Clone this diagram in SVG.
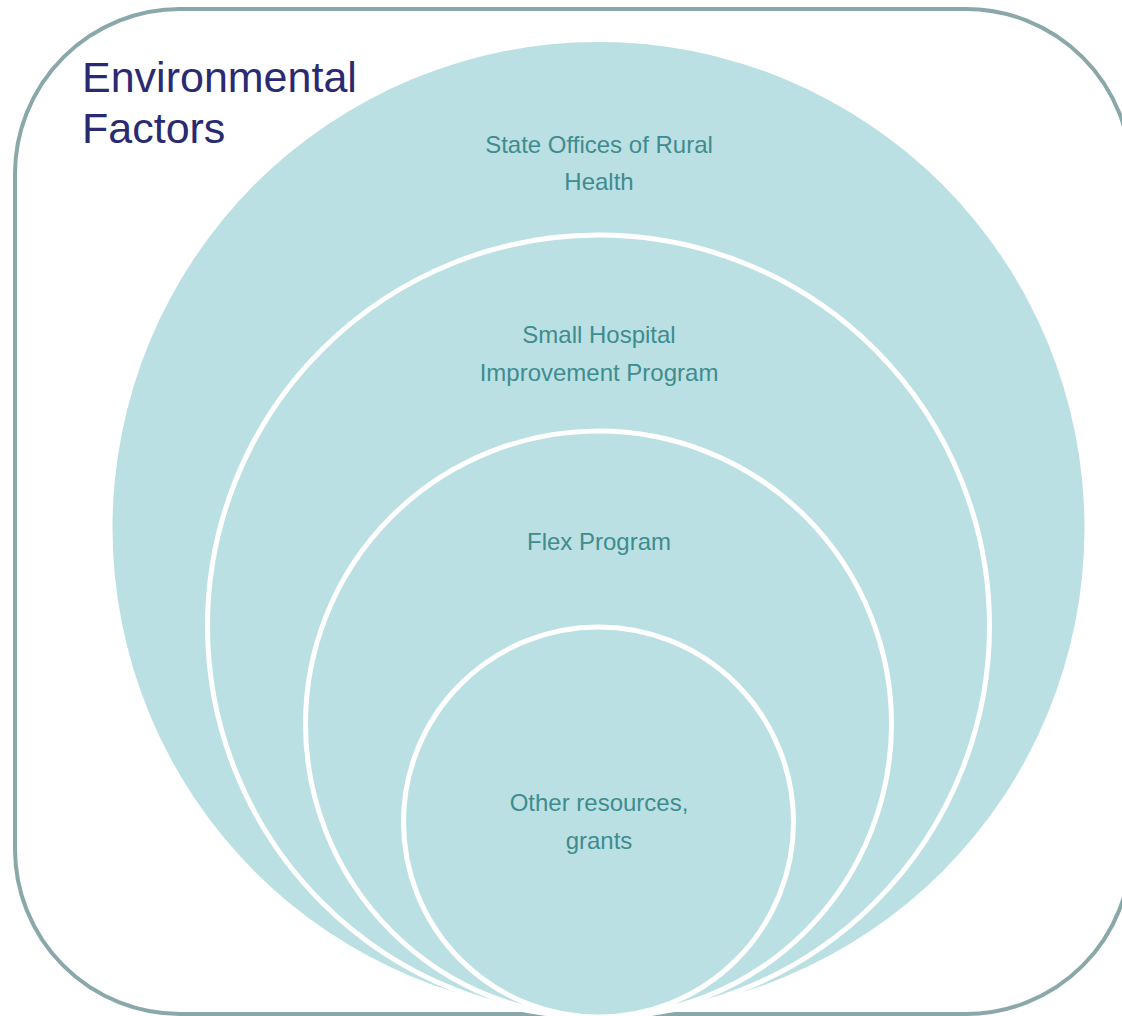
<svg xmlns="http://www.w3.org/2000/svg" width="1122" height="1016" viewBox="0 0 1122 1016">
<style>
.ring{fill:#bbe0e3;stroke:#ffffff;stroke-width:5}
.lbl{font-family:"Liberation Sans",Arial,sans-serif;font-size:24px;fill:#3e8c8f;text-anchor:middle}
.title{font-family:"Liberation Sans",Arial,sans-serif;font-size:43px;fill:#2a2a72}
</style>
<rect x="0" y="0" width="1122" height="1016" fill="#ffffff"/>
<g id="frame">
<rect x="15" y="9" width="1116" height="1005" rx="165" ry="165" fill="none" stroke="#8aa8aa" stroke-width="4"/>
<text class="title" x="82" y="92">Environmental</text>
<text class="title" x="82" y="143">Factors</text>
</g>
<g id="state-offices">
<circle class="ring" cx="598.5" cy="528" r="486" style="stroke:none"/>
<text class="lbl" x="599" y="153">State Offices of Rural</text>
<text class="lbl" x="599" y="190">Health</text>
</g>
<g id="ship">
<circle class="ring" cx="598.5" cy="626" r="391"/>
<text class="lbl" x="599" y="343">Small Hospital</text>
<text class="lbl" x="599" y="381">Improvement Program</text>
</g>
<g id="flex">
<circle class="ring" cx="598.5" cy="724" r="293"/>
<text class="lbl" x="599" y="550">Flex Program</text>
</g>
<g id="other">
<circle class="ring" cx="598.5" cy="822" r="195"/>
<text class="lbl" x="599" y="811">Other resources,</text>
<text class="lbl" x="599" y="849">grants</text>
</g>
<g id="connectors"></g>
</svg>
